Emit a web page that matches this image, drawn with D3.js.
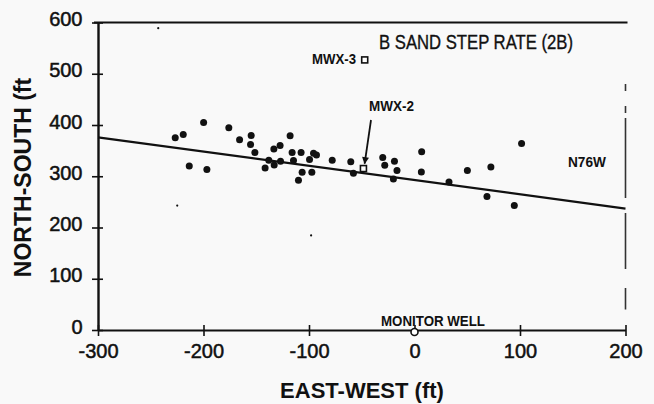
<!DOCTYPE html>
<html>
<head>
<meta charset="utf-8">
<script src="https://cdn.jsdelivr.net/npm/d3@7"></script>
<style>
  html, body { margin: 0; padding: 0; background: #f9f9f9; }
  svg { display: block; font-family: "Liberation Sans", Arial, sans-serif; }
</style>
</head>
<body>
<svg id="chart" width="654" height="404"></svg>
<script>
// ---- data ----
const wellX = [-226.8, -219.2, -199.9, -213.5, -196.8, -176, -165.8, -154.8, -155.4, -151.3,
  -117.9, -133.3, -127.4, -138.1, -141.6, -133, -127, -116, -107.5, -114.7,
  -99.5, -95.7, -92.9, -106.5, -97.3, -110, -78, -60.4, -57.9, -30.1,
  -28.2, -19, -16.6, -20, 6.8, 6.5, 32.7, 50.1, 72.4, 68.7, 101.5, 94.6];
const wellY = [375, 381.6, 405, 320, 313, 394.5, 371, 379.6, 362, 346.4,
  378.9, 353.4, 360, 331.3, 316.2, 322, 329.4, 346.4, 346.4, 330.7,
  332.7, 345, 341.7, 307.8, 307.8, 292.2, 331.3, 328.4, 305.9, 336.6,
  321.5, 329.4, 311.2, 294.7, 347.6, 308.4, 288.8, 311.2, 318.2, 260.3, 364, 242.7];
const specksX = [-242.9, -224.9, -98];
const specksY = [589, 242.7, 184.5];
const trendX = [-300, 200];
const trendY = [376, 237];
const labelledWells = ["MWX-3", "MWX-2"];
const labelledX = [-47.2, -48.4];
const labelledY = [527, 315];
const xTicks = [-300, -200, -100, 0, 100, 200];
const yTicks = [0, 100, 200, 300, 400, 500, 600];
const title = "B SAND STEP RATE (2B)";
const trendLabel = "N76W";
const monitorLabel = "MONITOR WELL";
const xTitle = "EAST-WEST (ft)";
const yTitle = "NORTH-SOUTH (ft";

// ---- scales ----
const svg = d3.select("#chart");
const x = d3.scaleLinear().domain([-300, 200]).range([98, 625.5]);
const y = d3.scaleLinear().domain([0, 600]).range([330, 22.5]);
const ink = "#111";
const fmt = d => String(d);

// ---- axes ----
const yAxis = d3.axisLeft(y).tickValues(yTicks).tickFormat(fmt)
  .tickSizeInner(6).tickSizeOuter(0).tickPadding(9.5);
const gy = svg.append("g").attr("transform", `translate(${x(-300)},0)`).call(yAxis);
gy.select(".domain").attr("stroke", ink).attr("stroke-width", 2.4);
gy.selectAll(".tick line").attr("x1", 5).attr("stroke", ink).attr("stroke-width", 1.6);
gy.selectAll(".tick text").attr("font-size", 20).attr("fill", ink)
  .attr("stroke", ink).attr("stroke-width", 0.5)
  .attr("font-family", "'Liberation Sans', Arial, sans-serif").attr("dy", "0.15em");

const xAxis = d3.axisBottom(x).tickValues(xTicks).tickFormat(fmt)
  .tickSizeInner(6).tickSizeOuter(0).tickPadding(8);
const gx = svg.append("g").attr("transform", `translate(0,${y(0)})`).call(xAxis);
gx.select(".domain").attr("stroke", ink).attr("stroke-width", 2.2);
gx.selectAll(".tick line").attr("y1", -5).attr("stroke", ink).attr("stroke-width", 1.6);
gx.selectAll(".tick text").attr("font-size", 20).attr("fill", ink)
  .attr("stroke", ink).attr("stroke-width", 0.5)
  .attr("font-family", "'Liberation Sans', Arial, sans-serif").attr("dy", "0.71em");

// top frame line
svg.append("line").attr("x1", x(-300) - 4).attr("x2", x(200) + 2)
  .attr("y1", y(600)).attr("y2", y(600)).attr("stroke", ink).attr("stroke-width", 2);
// dashed right edge
svg.append("line").attr("x1", x(200)).attr("x2", x(200))
  .attr("y1", y(480)).attr("y2", y(40))
  .attr("stroke", "#333").attr("stroke-width", 1.6)
  .attr("stroke-dasharray", "7,15,7,5,80,15,56,19,23");

// ---- trend line ----
svg.append("path")
  .datum(trendX.map((d, i) => [d, trendY[i]]))
  .attr("fill", "none").attr("stroke", ink).attr("stroke-width", 2.2)
  .attr("d", d3.line().x(d => x(d[0])).y(d => y(d[1])));

// ---- wells ----
svg.append("g").selectAll("circle")
  .data(wellX.map((d, i) => [d, wellY[i]]))
  .join("circle")
  .attr("cx", d => x(d[0])).attr("cy", d => y(d[1])).attr("r", 3.5).attr("fill", ink);

svg.append("g").selectAll("circle")
  .data(specksX.map((d, i) => [d, specksY[i]]))
  .join("circle")
  .attr("cx", d => x(d[0])).attr("cy", d => y(d[1])).attr("r", 1.1).attr("fill", ink);

// labelled wells (open squares)
svg.append("g").selectAll("rect")
  .data(labelledX.map((d, i) => [d, labelledY[i]]))
  .join("rect")
  .attr("x", d => x(d[0]) - 3).attr("y", d => y(d[1]) - 3)
  .attr("width", 6).attr("height", 6)
  .attr("fill", "#fff").attr("stroke", ink).attr("stroke-width", 1.6);

// monitor well
svg.append("circle").attr("cx", x(0)).attr("cy", y(0) + 2).attr("r", 3.5)
  .attr("fill", "#fff").attr("stroke", ink).attr("stroke-width", 1.6);

// ---- text ----
const lab = (t, px, py, size, weight, anchor) => svg.append("text")
  .attr("x", px).attr("y", py).attr("font-size", size).attr("font-weight", weight)
  .attr("text-anchor", anchor || "start").attr("fill", ink).text(t);

lab(title, 379, 49, 20, "normal").attr("stroke", ink).attr("stroke-width", 0.35)
  .attr("textLength", 194).attr("lengthAdjust", "spacingAndGlyphs");
lab(labelledWells[0], 312, 63.5, 15, "bold").attr("textLength", 44).attr("lengthAdjust", "spacingAndGlyphs");
lab(labelledWells[1], 369, 110.5, 15, "bold").attr("textLength", 45).attr("lengthAdjust", "spacingAndGlyphs");
lab(trendLabel, 568, 167, 15, "bold").attr("textLength", 38).attr("lengthAdjust", "spacingAndGlyphs");
lab(monitorLabel, 381, 325.5, 15, "bold").attr("textLength", 104).attr("lengthAdjust", "spacingAndGlyphs");

// arrow to MWX-2
svg.append("defs").append("marker").attr("id", "ah")
  .attr("viewBox", "0 0 10 10").attr("refX", 9).attr("refY", 5)
  .attr("markerUnits", "userSpaceOnUse")
  .attr("markerWidth", 12).attr("markerHeight", 7).attr("orient", "auto")
  .append("path").attr("d", "M0,0 L10,5 L0,10 z").attr("fill", ink);
svg.append("line").attr("x1", 371).attr("y1", 120)
  .attr("x2", x(labelledX[1]) + 1.2).attr("y2", y(labelledY[1]) - 5)
  .attr("stroke", ink).attr("stroke-width", 1.8).attr("marker-end", "url(#ah)");

// axis titles
lab(xTitle, 362, 398, 22, "bold", "middle");
svg.append("text").attr("transform", "translate(31,177.5) rotate(-90)")
  .attr("text-anchor", "middle").attr("font-size", 23).attr("font-weight", "bold")
  .attr("fill", ink).text(yTitle);
</script>
</body>
</html>
